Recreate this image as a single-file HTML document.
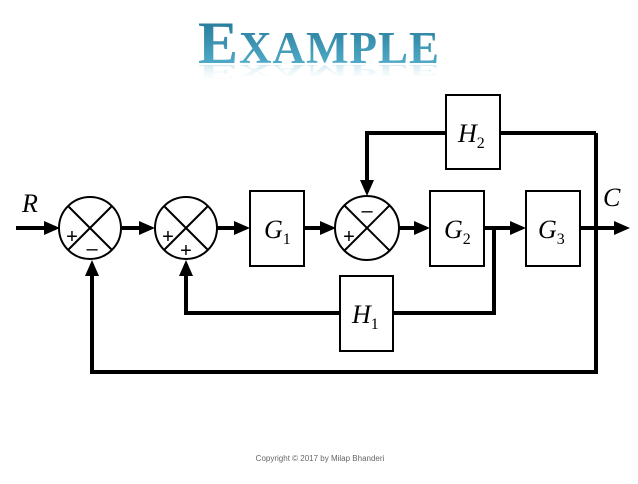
<!DOCTYPE html>
<html><head><style>
body{margin:0;background:#fff;width:638px;height:479px;overflow:hidden;}
</style></head><body>
<svg width="638" height="479" viewBox="0 0 638 479" xmlns="http://www.w3.org/2000/svg">
<defs>
<linearGradient id="tg" x1="0" y1="0" x2="0" y2="1">
<stop offset="0" stop-color="#1d6f8e"/><stop offset="1" stop-color="#5bb8d4"/>
</linearGradient>
<linearGradient id="rg" x1="0" y1="0" x2="0" y2="1">
<stop offset="0" stop-color="#fff" stop-opacity="0"/><stop offset="1" stop-color="#9fd3e4" stop-opacity="0.7"/>
</linearGradient>
</defs>
<text x="319" y="63" text-anchor="middle" font-family="Liberation Serif,serif" font-weight="bold" font-size="60" letter-spacing="1" fill="url(#tg)">E<tspan font-size="45">XAMPLE</tspan></text>
<text x="319" y="-186" text-anchor="middle" font-family="Liberation Serif,serif" font-weight="bold" font-size="60" letter-spacing="1" fill="url(#rg)" transform="scale(1,-0.35)">E<tspan font-size="45">XAMPLE</tspan></text>
<g stroke="#000" stroke-width="4" fill="none">
<line x1="16" y1="228" x2="56" y2="228"/>
<line x1="122" y1="228" x2="151" y2="228"/>
<line x1="217" y1="228" x2="246" y2="228"/>
<line x1="304" y1="228" x2="332" y2="228"/>
<line x1="399" y1="228" x2="426" y2="228"/>
<line x1="484" y1="228" x2="522" y2="228"/>
<line x1="580" y1="228" x2="624" y2="228"/>
<polyline points="494,228 494,313 393,313"/>
<polyline points="340,313 186,313 186,264"/>
<polyline points="596,133 596,372 92,372 92,264"/>
<polyline points="596,133 500,133"/>
<polyline points="446,133 367,133 367,192"/>
</g>
<g fill="#000">
<path d="M44,221 L60,228 L44,235Z"/>
<path d="M139,221 L155,228 L139,235Z"/>
<path d="M234,221 L250,228 L234,235Z"/>
<path d="M320,221 L336,228 L320,235Z"/>
<path d="M414,221 L430,228 L414,235Z"/>
<path d="M510,221 L526,228 L510,235Z"/>
<path d="M614,221 L630,228 L614,235Z"/>
<path d="M85,276 L92,260 L99,276Z"/>
<path d="M179,276 L186,260 L193,276Z"/>
<path d="M360,180 L367,196 L374,180Z"/>
</g>
<g stroke="#000" stroke-width="2" fill="#fff">
<circle cx="90" cy="228" r="31"/>
<circle cx="186" cy="228" r="31"/>
<circle cx="367" cy="228" r="32"/>
<rect x="250" y="191" width="54" height="75"/>
<rect x="430" y="191" width="54" height="75"/>
<rect x="526" y="191" width="54" height="75"/>
<rect x="446" y="95" width="54" height="74"/>
<rect x="340" y="276" width="53" height="75"/>
</g>
<g stroke="#000" stroke-width="2">
<line x1="68" y1="206" x2="112" y2="250"/><line x1="112" y1="206" x2="68" y2="250"/>
<line x1="164" y1="206" x2="208" y2="250"/><line x1="208" y1="206" x2="164" y2="250"/>
<line x1="344" y1="205" x2="390" y2="251"/><line x1="390" y1="205" x2="344" y2="251"/>
</g>
<g font-family="Liberation Sans,sans-serif" font-size="20" text-anchor="middle">
<text x="72" y="243">+</text><text x="92" y="255">–</text>
<text x="168" y="243">+</text><text x="186" y="257">+</text>
<text x="349" y="243">+</text><text x="367" y="217">–</text>
</g>
<g font-family="Liberation Serif,serif" font-style="italic" font-size="26">
<text x="22" y="212">R</text>
<text x="603" y="206">C</text>
<text x="264" y="238">G<tspan font-size="16" font-style="normal" dy="6">1</tspan></text>
<text x="444" y="238">G<tspan font-size="16" font-style="normal" dy="6">2</tspan></text>
<text x="538" y="238">G<tspan font-size="16" font-style="normal" dy="6">3</tspan></text>
<text x="458" y="142">H<tspan font-size="16" font-style="normal" dy="6">2</tspan></text>
<text x="352" y="323">H<tspan font-size="16" font-style="normal" dy="6">1</tspan></text>
</g>
<text x="320" y="461" text-anchor="middle" font-family="Liberation Sans,sans-serif" font-size="8" fill="#666">Copyright © 2017 by Milap Bhanderi</text>
</svg>
</body></html>
